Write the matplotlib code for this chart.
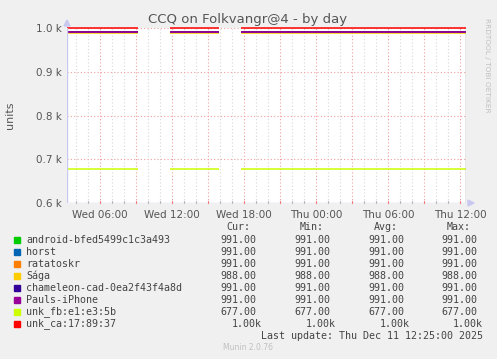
import matplotlib
matplotlib.use("Agg")
import matplotlib.pyplot as plt
import numpy as np

# ---- data ----
series_names = ["android-bfed5499c1c3a493", "horst", "ratatoskr", "Sága",
                "chameleon-cad-0ea2f43f4a8d", "Pauls-iPhone", "unk_fb:e1:e3:5b",
                "unk_ca:17:89:37"]
series_colors = ["#00CC00", "#0066B3", "#FF8000", "#FFCC00",
                 "#330099", "#990099", "#CCFF00", "#FF0000"]
series_values = [991, 991, 991, 988, 991, 991, 677, 1000]
# segments with data (hours since Wed 00:00)
seg_starts = [3.25, 11.83, 17.75]
seg_ends = [9.17, 15.92, 36.5]
cur_vals = ["991.00", "991.00", "991.00", "988.00", "991.00", "991.00", "677.00", "1.00k"]
min_vals = ["991.00", "991.00", "991.00", "988.00", "991.00", "991.00", "677.00", "1.00k"]
avg_vals = ["991.00", "991.00", "991.00", "988.00", "991.00", "991.00", "677.00", "1.00k"]
max_vals = ["991.00", "991.00", "991.00", "988.00", "991.00", "991.00", "677.00", "1.00k"]
x_tick_pos = [6, 12, 18, 24, 30, 36]
x_tick_labels = ["Wed 06:00", "Wed 12:00", "Wed 18:00", "Thu 00:00", "Thu 06:00", "Thu 12:00"]
y_ticks = [600, 700, 800, 900, 1000]
y_tick_labels = ["0.6 k", "0.7 k", "0.8 k", "0.9 k", "1.0 k"]
x_min, x_max = 3.25, 36.5

W, H = 497, 359
fig = plt.figure(figsize=(W / 100, H / 100), dpi=100, facecolor="#F0F0F0")

L, R, T, B = 67, 466, 28, 203
ax = fig.add_axes([L / W, 1 - B / H, (R - L) / W, (B - T) / H])
ax.set_facecolor("white")
ax.set_xlim(x_min, x_max)
ax.set_ylim(600, 1000)
for s in ax.spines.values():
    s.set_visible(False)

# grid
for h in np.arange(4, 37, 1):
    if h % 3 == 0:
        ax.axvline(h, color="#F0A0A0", lw=0.8, ls=(0, (1, 2)), zorder=1)
    else:
        ax.axvline(h, color="#D8D8D8", lw=0.8, ls=(0, (1, 2)), zorder=1)
for yv in y_ticks[1:]:
    ax.axhline(yv, color="#F0A0A0", lw=0.8, ls=(0, (1, 2)), zorder=1)

# data lines
for name, col, val in zip(series_names, series_colors, series_values):
    for s0, s1 in zip(seg_starts, seg_ends):
        ax.plot([s0, s1], [val, val], color=col, lw=1.1, solid_capstyle="butt", zorder=3,
                clip_on=False)

ax.set_xticks(x_tick_pos)
ax.set_xticklabels(x_tick_labels)
ax.set_yticks(y_ticks)
ax.set_yticklabels(y_tick_labels)
ax.tick_params(axis="both", length=0, labelsize=7.5, colors="#555555", pad=4)
ax.tick_params(axis="x", pad=5)

# axes lines
ax.axvline(x_min, color="#C8C8F0", lw=1, zorder=4)
ax.axhline(600, color="#C8C8F0", lw=1, zorder=4)
ax.axvline(x_max, color="#888888", lw=1, zorder=4)
# small ticks on x axis
for h in np.arange(4, 37, 1):
    c = "#F08080" if h % 3 == 0 else "#BBBBBB"
    ax.plot([h, h], [600, 604], color=c, lw=0.8, zorder=4, clip_on=False)

# arrows
fig.patches.append(plt.Polygon([[ (L - 3) / W, 1 - (T - 2) / H], [(L + 3) / W, 1 - (T - 2) / H],
                                 [L / W, 1 - (T - 8) / H]], closed=True, transform=fig.transFigure,
                                color="#C8C8F0"))
fig.patches.append(plt.Polygon([[(R + 2) / W, 1 - (B - 3) / H], [(R + 2) / W, 1 - (B + 3) / H],
                                 [(R + 8) / W, 1 - B / H]], closed=True, transform=fig.transFigure,
                                color="#C8C8F0"))

def fx(x):
    return x / W

def fy(y):
    return 1 - y / H

fig.text(fx(248), fy(20), "CCQ on Folkvangr@4 - by day", ha="center", va="center",
         fontsize=9.5, color="#555555")
fig.text(fx(10), fy(115), "units", rotation=90, ha="center", va="center",
         fontsize=8, color="#555555")
fig.text(fx(487), fy(18), "RRDTOOL / TOBI OETIKER", rotation=270, ha="center", va="top",
         fontsize=5.3, color="#C0C0C0")

mono = "DejaVu Sans Mono"
fs = 7.2
txtc = "#444444"
# header
for lbl, xr in zip(["Cur:", "Min:", "Avg:", "Max:"], [250, 324, 398, 471]):
    fig.text(fx(xr), fy(227), lbl, ha="right", va="center", family=mono, fontsize=fs, color=txtc)

row_y0 = 240
row_dy = 12
for i, (name, col) in enumerate(zip(series_names, series_colors)):
    y = row_y0 + i * row_dy
    fig.patches.append(plt.Rectangle((fx(14), fy(y + 3)), 6 / W, 6 / H, transform=fig.transFigure,
                                     color=col))
    fig.text(fx(26), fy(y), name, ha="left", va="center", family=mono, fontsize=fs, color=txtc)
    for vals, xr in zip([cur_vals, min_vals, avg_vals, max_vals], [256, 330, 404, 477]):
        v = vals[i]
        xx = xr + (6 if v.endswith("k") else 0)
        fig.text(fx(xx), fy(y), v, ha="right", va="center", family=mono, fontsize=fs, color=txtc)

fig.text(fx(483), fy(336), "Last update: Thu Dec 11 12:25:00 2025", ha="right", va="center",
         family=mono, fontsize=fs, color=txtc)
fig.text(fx(248), fy(348), "Munin 2.0.76", ha="center", va="center", fontsize=5.5, color="#C0C0C0")

fig.savefig("out.png", dpi=100, facecolor=fig.get_facecolor())
